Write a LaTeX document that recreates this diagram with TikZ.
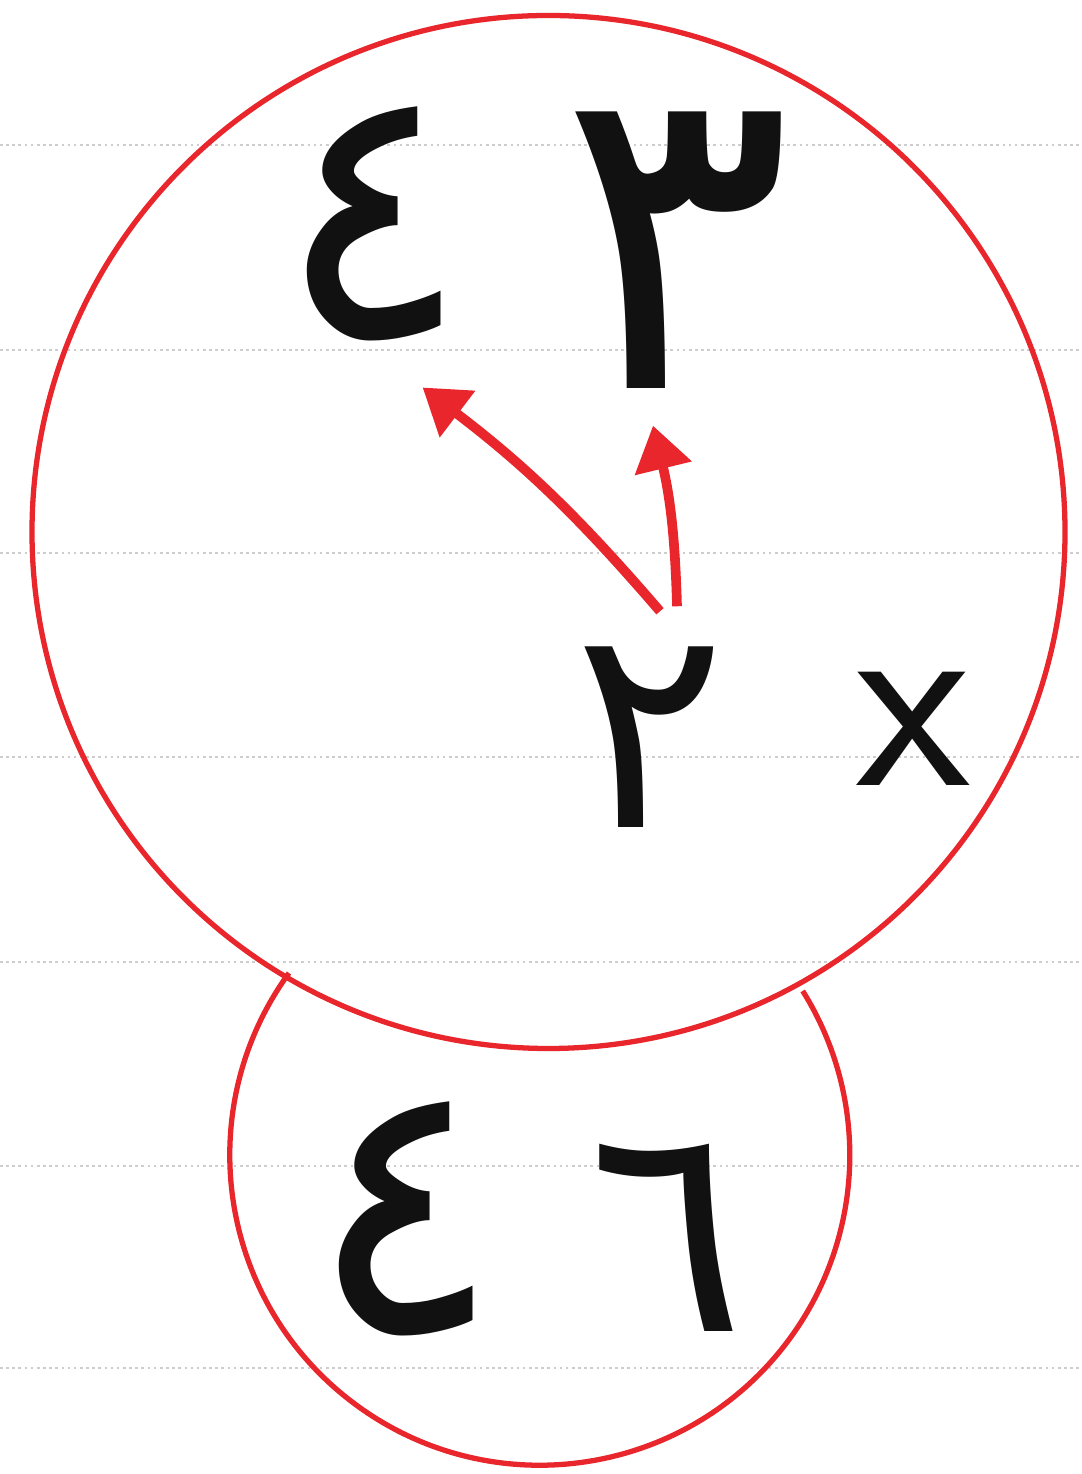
\documentclass[tikz,border=0pt]{standalone}
\usepackage{fontspec}
\usetikzlibrary{arrows.meta}
\newfontfamily\arabicfont[Script=Arabic]{DejaVu Sans}
\TeXXeTstate=1
\definecolor{PenRed}{HTML}{E8262C}
\definecolor{PenBlack}{HTML}{111111}
\definecolor{RuleGrey}{HTML}{CDCDCD}
\tikzset{
    % ruled lines of the notebook page
    ruling/.style={
        draw=RuleGrey,
        line width=1.5pt,
        dotted
    },
    % red rings round the numbers
    ring/.style={
        draw=PenRed,
        line width=3pt
    },
    % handwritten figures
    digit/.style={
        text=PenBlack,
        inner sep=0pt,
        font=\arabicfont\fontsize{#1}{#1}\selectfont
    },
    letter/.style={
        text=PenBlack,
        inner sep=0pt,
        font=\sffamily\fontsize{150}{150}\selectfont
    },
    % red pen arrows
    arrow/.style={
        -{Triangle[length=25pt,width=32pt]},
        draw=PenRed,
        line width=5.5pt
    }
}
\begin{document}
\begin{tikzpicture}
    \useasboundingbox (0,0) rectangle (21.62,29.48);
    \fill[white] (0,0) rectangle (21.62,29.48);

    % page rulings
    \foreach \y in {26.58,22.48,18.42,14.34,10.24,6.16,2.12}
        \draw[ruling] (0,\y) -- (21.62,\y);

    \draw[ring] (10.97,18.84) circle (10.33);
    \draw[ring] (5.78,10.02) arc[start angle=144, end angle=392, radius=6.2];

    \node[digit=205] (fourtop) at (7.46,25.0) {\beginR ٤\endR};
    \node[digit=248] (three) at (13.54,24.48) {\beginR ٣\endR};
    \node[digit=162] (two) at (13.0,14.74) {\beginR ٢\endR};
    \node[letter] (ex) at (18.26,14.9) {x};

    \node[digit=205] (fourbot) at (8.1,5.1) {\beginR ٤\endR};
    \node[digit=168] (six) at (13.34,4.72) {\beginR ٦\endR};

    \draw[arrow] ([xshift=0.2cm,yshift=0.7cm]two.north) to[bend right=6]
        ([xshift=-0.95cm,yshift=-0.92cm]fourtop.south east);
    \draw[arrow] ([xshift=0.54cm,yshift=0.8cm]two.north) to[bend right=6]
        ([xshift=-0.48cm,yshift=-0.74cm]three.south);
\end{tikzpicture}
\end{document}
